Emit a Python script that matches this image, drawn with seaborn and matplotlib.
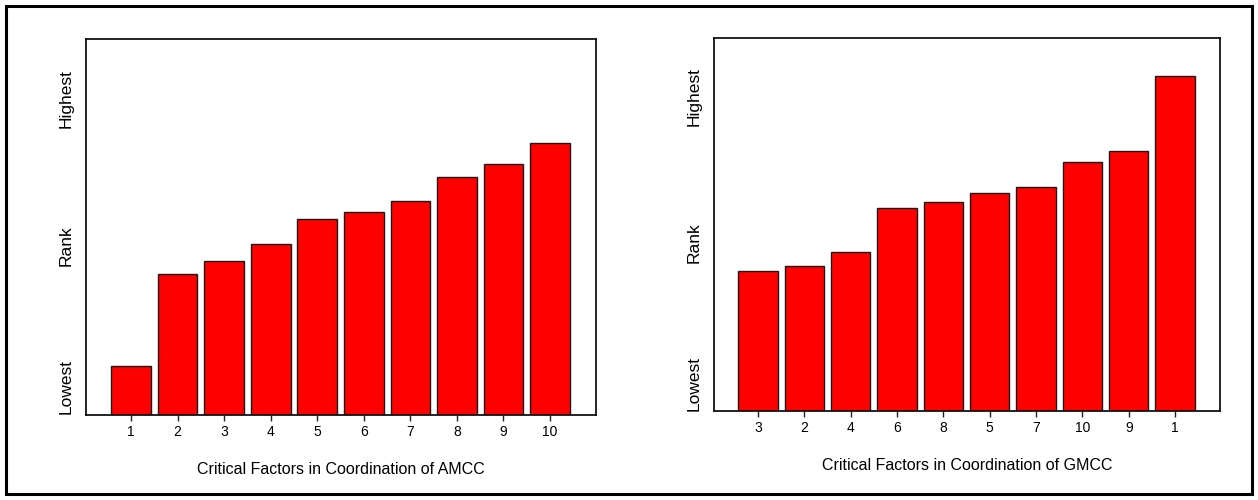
import matplotlib
matplotlib.use("Agg")
import matplotlib.pyplot as plt
import seaborn as sns
import pandas as pd
from matplotlib.patches import Rectangle

sns.set_theme(style="white")
plt.rcParams['font.family'] = ['Liberation Sans', 'DejaVu Sans']
plt.rcParams['text.color'] = 'black'
plt.rcParams['xtick.color'] = 'black'
plt.rcParams['ytick.color'] = 'black'
plt.rcParams['axes.labelcolor'] = 'black'

# Data
amcc_factors = ['1', '2', '3', '4', '5', '6', '7', '8', '9', '10']
amcc_rank = [49, 141, 154, 171, 195, 202, 213, 237, 250, 271]
gmcc_factors = ['3', '2', '4', '6', '8', '5', '7', '10', '9', '1']
gmcc_rank = [141, 146, 160, 204, 210, 219, 225, 250, 261, 337]
rank_ticks = [28, 169, 316]
rank_labels = ['Lowest', 'Rank', 'Highest']
xlabels = ['Critical Factors in Coordination of AMCC',
           'Critical Factors in Coordination of GMCC']

fig = plt.figure(figsize=(12.58, 5.0), dpi=100)
fig.patch.set_facecolor('white')
fig.patches.append(Rectangle((6/1258, 6/500), 1-12/1258, 1-12/500,
                             transform=fig.transFigure, fill=False,
                             edgecolor='black', linewidth=2.2, zorder=0))

ax1 = fig.add_axes([86/1258, 85/500, 510/1258, 376/500])
ax2 = fig.add_axes([714/1258, 89/500, 506/1258, 373/500])

panels = [
    (ax1, amcc_factors, amcc_rank, xlabels[0], (-0.97, 9.99)),
    (ax2, gmcc_factors, gmcc_rank, xlabels[1], (-0.95, 9.97)),
]
for ax, cats, vals, xl, xlim in panels:
    df = pd.DataFrame({'factor': cats, 'rank': vals})
    sns.barplot(data=df, x='factor', y='rank', order=cats, color='#ff0000',
                saturation=1, edgecolor='#1a1a1a', linewidth=1.0,
                width=0.85, ax=ax)
    ax.set_xlim(*xlim)
    ax.set_ylim(0, 375)
    ax.set_yticks(rank_ticks)
    ax.set_yticklabels(rank_labels, rotation=90, va='center', fontsize=12.5)
    ax.tick_params(axis='y', length=0, pad=9)
    ax.tick_params(axis='x', length=4, width=1, color='#222222', direction='out',
                   bottom=True, labelsize=10, pad=3)
    ax.set_xlabel(xl, fontsize=11.5, labelpad=17)
    ax.set_ylabel('')
    for s in ax.spines.values():
        s.set_visible(True)
        s.set_color('#111111')
        s.set_linewidth(1.3)
    ax.set_facecolor('white')

fig.savefig('out.png', dpi=100, facecolor='white')
